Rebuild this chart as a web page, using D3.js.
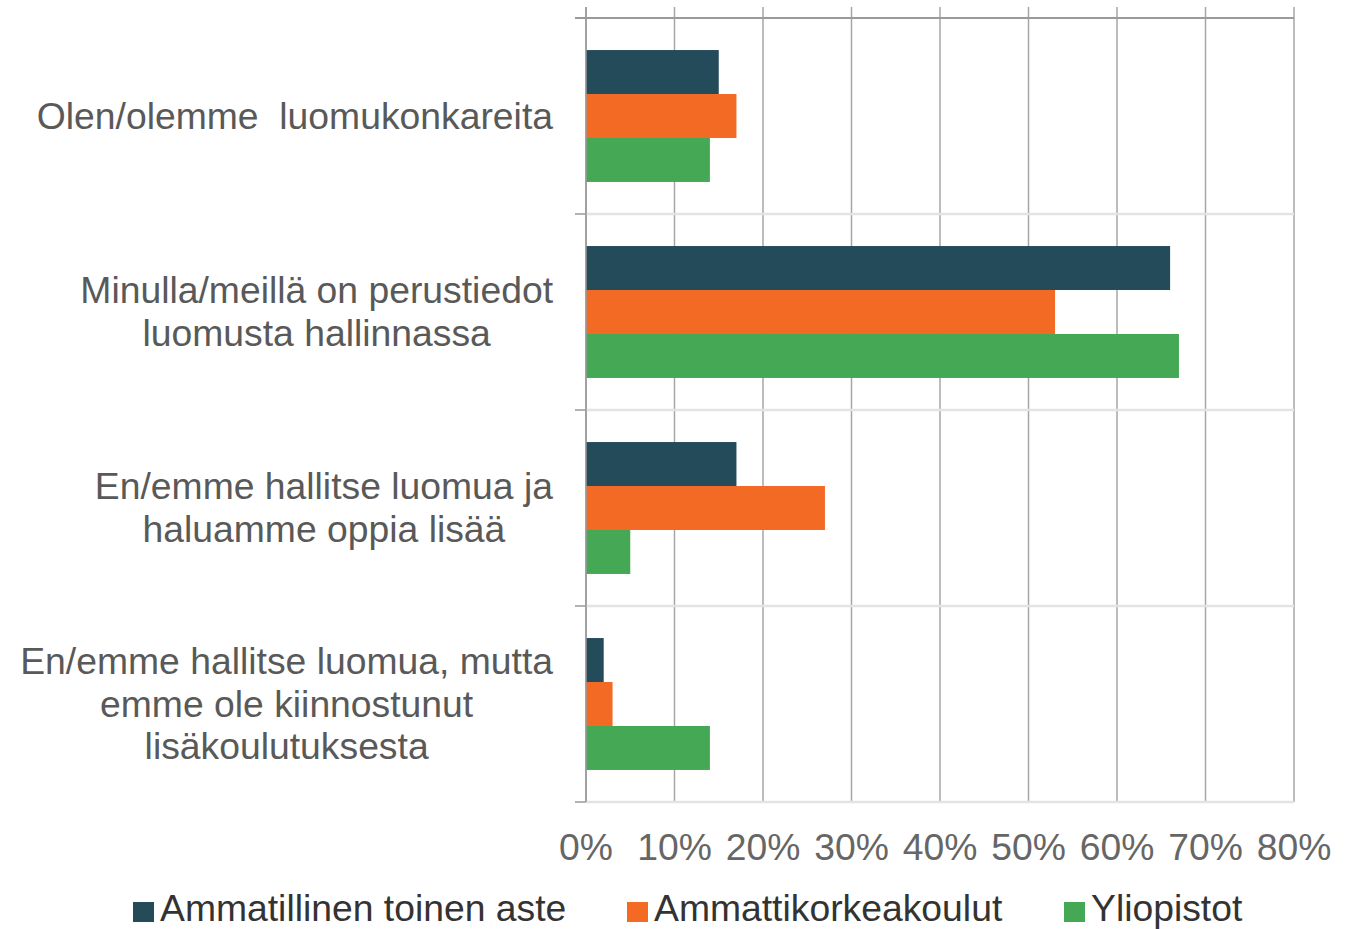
<!DOCTYPE html>
<html><head><meta charset="utf-8">
<script src="https://cdn.jsdelivr.net/npm/d3@7"></script>
<style>body{margin:0;background:#fff}svg{display:block}text{font-family:"Liberation Sans",Arial,sans-serif}</style>
</head><body>
<svg id="c" width="1356" height="929"></svg>
<script>
const categories = [
  ["Olen/olemme  luomukonkareita"],
  ["Minulla/meillä on perustiedot", "luomusta hallinnassa"],
  ["En/emme hallitse luomua ja", "haluamme oppia lisää"],
  ["En/emme hallitse luomua, mutta", "emme ole kiinnostunut", "lisäkoulutuksesta"]
];
const seriesNames = ["Ammatillinen toinen aste", "Ammattikorkeakoulut", "Yliopistot"];
const seriesColors = ["#234B5A", "#F26A24", "#44A854"];
const ammatillinen = [15, 66, 17, 2];
const amk = [17, 53, 27, 3];
const yliopistot = [14, 67, 5, 14];
const xTicks = [0, 10, 20, 30, 40, 50, 60, 70, 80];

(function () {
const values = [ammatillinen, amk, yliopistot];
const svg = d3.select("#c");
const pL = 586, pR = 1294, pT = 18, pB = 802;
const fs = 37.3;

const x = d3.scaleLinear().domain([0, 80]).range([pL, pR]);
const y = d3.scaleBand().domain(d3.range(categories.length)).range([pT, pB]).paddingInner(0.327).paddingOuter(0.1635);
const ys = d3.scaleBand().domain(d3.range(seriesNames.length)).range([0, y.bandwidth()]);
const step = (pB - pT) / categories.length;

// vertical gridlines
svg.append("g").selectAll("line").data(xTicks).join("line")
  .attr("x1", d => x(d)).attr("x2", d => x(d)).attr("y1", 7).attr("y2", pB)
  .attr("stroke", "#a6a6a6").attr("stroke-width", 1.5);

// category separators
const seps = d3.range(1, categories.length + 1).map(i => pT + i * step);
svg.append("g").selectAll("line").data(seps).join("line")
  .attr("x1", pL).attr("x2", pR).attr("y1", d => d).attr("y2", d => d)
  .attr("stroke", "#e3e3e3").attr("stroke-width", 2.5);
// top line
svg.append("line").attr("x1", 575).attr("x2", pR).attr("y1", pT).attr("y2", pT)
  .attr("stroke", "#9a9a9a").attr("stroke-width", 2);
// left ticks
svg.append("g").selectAll("line").data(d3.range(0, categories.length + 1).map(i => pT + i * step)).join("line")
  .attr("x1", 575).attr("x2", pL).attr("y1", d => d).attr("y2", d => d)
  .attr("stroke", "#9a9a9a").attr("stroke-width", 1.5);

// bars
values.forEach((vals, si) => {
  svg.append("g").selectAll("rect").data(vals).join("rect")
    .attr("x", x(0)).attr("y", (d, i) => y(i) + ys(si))
    .attr("width", d => x(d) - x(0)).attr("height", ys.bandwidth())
    .attr("fill", seriesColors[si]);
});
// left axis line
svg.append("line").attr("x1", pL).attr("x2", pL).attr("y1", 7).attr("y2", pB)
  .attr("stroke", "#9a9a9a").attr("stroke-width", 1.5);

// x tick labels
svg.append("g").selectAll("text").data(xTicks).join("text")
  .attr("x", d => x(d)).attr("y", 860).attr("text-anchor", "middle")
  .attr("font-size", fs).attr("fill", "#666666").text(d => d + "%");

// category labels
categories.forEach((lines, i) => {
  const g = svg.append("g");
  const n = lines.length;
  const lh = 42.5;
  const cy = y(i) + y.bandwidth() / 2;
  const t = g.selectAll("text").data(lines).join("text")
    .attr("x", 0).attr("y", (d, j) => cy + (j - (n - 1) / 2) * lh + 12.5)
    .attr("text-anchor", "middle").attr("font-size", fs).attr("fill", "#595959")
    .style("white-space", "pre").text(d => d);
  let maxW = 0;
  t.each(function () { maxW = Math.max(maxW, this.getComputedTextLength()); });
  g.attr("transform", `translate(${553 - maxW / 2},0)`);
});

// legend
const legX = [133, 627, 1064];
seriesNames.forEach((name, i) => {
  svg.append("rect").attr("x", legX[i]).attr("y", 902).attr("width", 21).attr("height", 20).attr("fill", seriesColors[i]);
  svg.append("text").attr("x", legX[i] + 27).attr("y", 921).attr("font-size", fs).attr("fill", "#333333").text(name);
});
})();
</script>
</body></html>
